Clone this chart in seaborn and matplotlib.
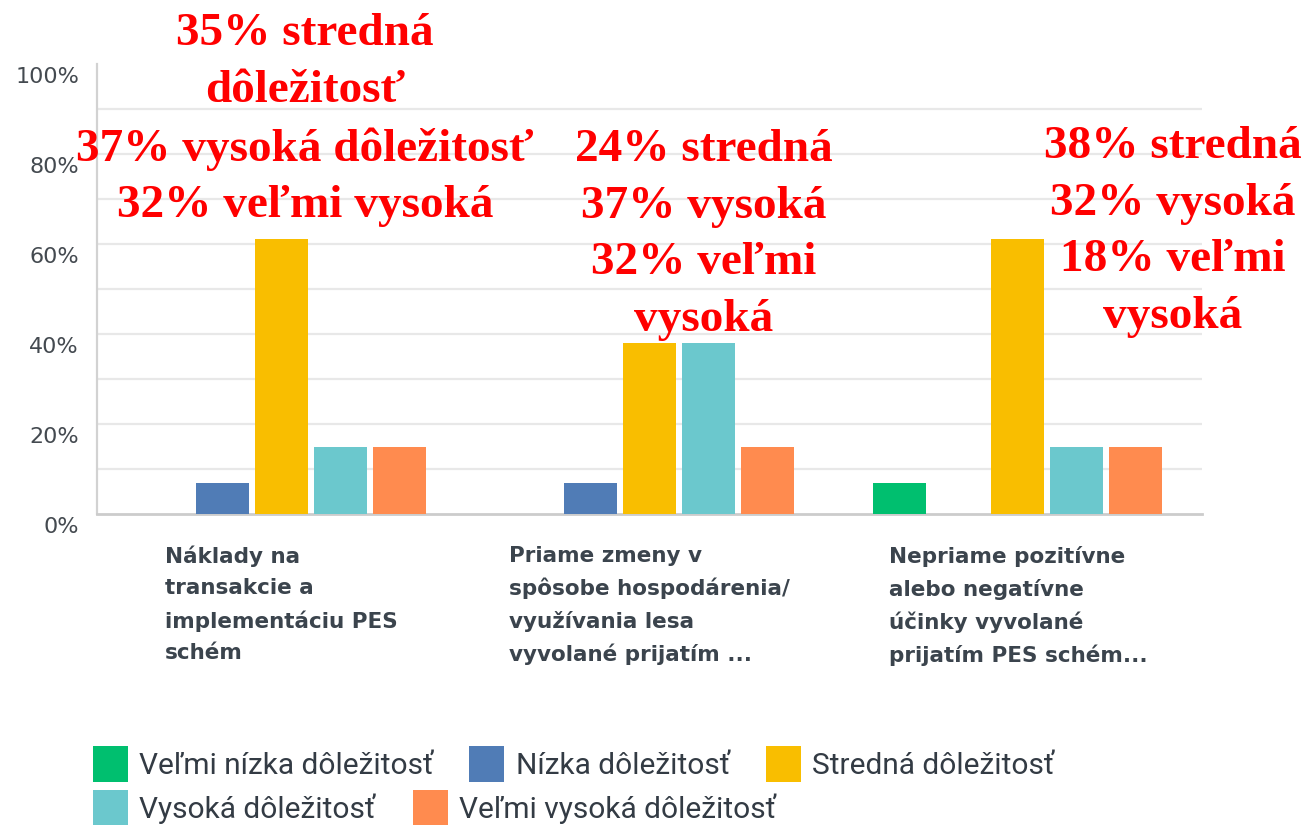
import matplotlib
matplotlib.use("Agg")
import matplotlib.pyplot as plt
import seaborn as sns
import pandas as pd
from matplotlib.patches import Patch
from matplotlib.transforms import ScaledTranslation

# ---------------- data ----------------
categories = [
    "Náklady na\ntransakcie a\nimplementáciu PES\nschém",
    "Priame zmeny v\nspôsobe hospodárenia/\nvyužívania lesa\nvyvolané prijatím ...",
    "Nepriame pozitívne\nalebo negatívne\núčinky vyvolané\nprijatím PES schém...",
]
levels = [
    "Veľmi nízka dôležitosť",
    "Nízka dôležitosť",
    "Stredná dôležitosť",
    "Vysoká dôležitosť",
    "Veľmi vysoká dôležitosť",
]
velmi_nizka = [0.0, 0.0, 6.9]
nizka = [6.9, 6.9, 0.0]
stredna = [61.1, 38.0, 61.1]
vysoka = [14.9, 38.0, 14.9]
velmi_vysoka = [14.9, 14.9, 14.9]

colors = ["#00bf6f", "#507cb6", "#f9be00", "#6bc8cd", "#ff8b4f"]

y_ticks = [0, 10, 20, 30, 40, 50, 60, 70, 80, 90, 100]
y_tick_labels = ["0%", "", "20%", "", "40%", "", "60%", "", "80%", "", "100%"]

notes = [
    "35% stredná\ndôležitosť\n37% vysoká dôležitosť\n32% veľmi vysoká",
    "24% stredná\n37% vysoká\n32% veľmi\nvysoká",
    "38% stredná\n32% vysoká\n18% veľmi\nvysoká",
]

# ---------------- frame ----------------
rows = []
for lvl, vals in zip(levels, [velmi_nizka, nizka, stredna, vysoka, velmi_vysoka]):
    for cat, v in zip(categories, vals):
        rows.append({"kategoria": cat, "uroven": lvl, "podiel": v})
df = pd.DataFrame(rows)

sns.set_style("white")
W, H = 1305, 825
fig = plt.figure(figsize=(W / 100, H / 100), dpi=100)
ax = fig.add_axes([97 / W, 1 - 514 / H, (1202 - 97) / W, (514 - 64) / H])

sns.barplot(
    data=df, x="kategoria", y="podiel", hue="uroven",
    order=categories, hue_order=levels, palette=colors,
    width=0.8, gap=0.1, linewidth=0, saturation=1,
    errorbar=None, legend=False, ax=ax, zorder=3,
)

ax.set_xlim(-0.5, 2.5)
ax.set_ylim(0, 100)
ax.set_xlabel("")
ax.set_ylabel("")

# y axis
ax.set_yticks(y_ticks)
ax.set_yticklabels(y_tick_labels, fontsize=16, color="#444a50", family="DejaVu Sans")
ax.tick_params(axis="y", length=0, pad=13)
ax.yaxis.grid(True, color="#e8e8e8", linewidth=1.6, zorder=0)
ax.set_axisbelow(True)
gl = ax.get_ygridlines()
gl[0].set_visible(False)
gl[-1].set_visible(False)
off = ScaledTranslation(0, -11 / 100, fig.dpi_scale_trans)
for lbl in ax.get_yticklabels():
    lbl.set_transform(lbl.get_transform() + off)

# x axis
ax.set_xticks(range(len(categories)))
ax.set_xticklabels(categories, ha="center", va="top", multialignment="left",
                   linespacing=1.68, fontsize=15.5, fontweight="bold",
                   color="#3b444d", family="DejaVu Sans")
ax.tick_params(axis="x", length=0, pad=23)

for s in ["top", "right"]:
    ax.spines[s].set_visible(False)
ax.spines["left"].set_color("#d2d2d2")
ax.spines["left"].set_linewidth(1.6)
ax.spines["bottom"].set_color("#cccccc")
ax.spines["bottom"].set_linewidth(2.0)

# legend (two flowing rows)
handles = [Patch(facecolor=c, edgecolor="none", label=l) for c, l in zip(colors, levels)]
common = dict(frameon=False, prop={"family": "Roboto", "size": 21.5},
              handlelength=1.17, handleheight=1.45, handletextpad=0.38,
              borderpad=0, borderaxespad=0, loc="center left")
leg1 = fig.legend(handles=handles[:3], ncol=3, columnspacing=1.2,
                  bbox_to_anchor=(93 / W, 1 - 764 / H), **common)
leg2 = fig.legend(handles=handles[3:], ncol=2, columnspacing=1.25,
                  bbox_to_anchor=(93 / W, 1 - 808 / H), **common)
for lg in (leg1, leg2):
    for t in lg.get_texts():
        t.set_color("#333b44")

# red annotations
note_pos = [(305, 13), (704, 129), (1173, 126)]
for txt, (px, py) in zip(notes, note_pos):
    fig.text(px / W, 1 - py / H, txt, ha="center", va="top", multialignment="center",
             fontsize=34, fontweight="bold", family="Liberation Serif",
             color="#ff0000", linespacing=1.46, zorder=10)

fig.savefig("out.png", dpi=100)
